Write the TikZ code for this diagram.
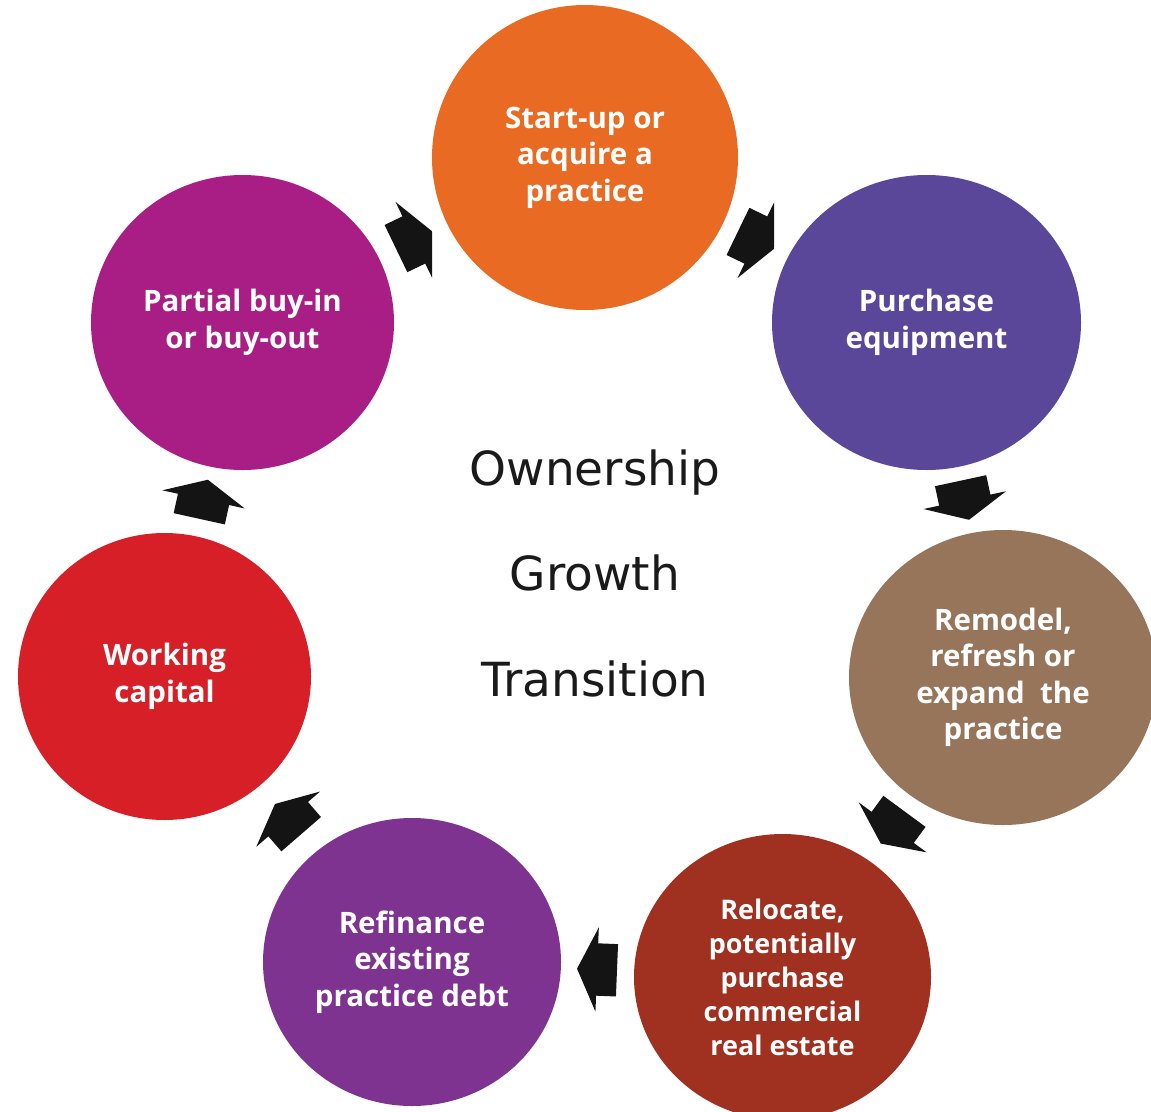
\documentclass[tikz,border=0pt]{standalone}
\usepackage{fontspec}
\setmainfont{Open Sans}
\newfontfamily\hubfont{DejaVu Sans}
\usetikzlibrary{
  shapes.geometric,
  shapes.arrows,
  calc
}
\definecolor{startorange}{RGB}{233,106,34}
\definecolor{equipviolet}{RGB}{91,71,153}
\definecolor{remodelbrown}{RGB}{150,117,91}
\definecolor{relocatered}{RGB}{160,48,31}
\definecolor{refipurple}{RGB}{127,51,145}
\definecolor{workingred}{RGB}{215,31,39}
\definecolor{partialmagenta}{RGB}{169,30,133}
\definecolor{arrowblack}{RGB}{20,20,20}
\definecolor{hubblack}{RGB}{26,26,26}
\tikzset{
  stagebox/.style={
    ellipse, draw=none, inner sep=0pt, align=center,
    text=white, font=\fontsize{29.5}{36.5}\selectfont\bfseries
  },
  cyclearrow/.style={
    single arrow, fill=arrowblack, draw=none,
    inner xsep=0pt, inner ysep=26pt, outer sep=0pt,
    minimum height=40pt, minimum width=84pt,
    single arrow head extend=16pt, single arrow tip angle=129
  },
  hubtext/.style={
    font=\hubfont\fontsize{47}{56}\selectfont, text=hubblack, anchor=base
  },
}

\begin{document}
\begin{tikzpicture}[x=1pt, y=-1pt]

  \useasboundingbox (0,0) rectangle (1151,1111);

  %% Stages of the cycle
  \node[stagebox, fill=startorange, minimum width=306pt, minimum height=305pt]
    (start) at (585,157.5) {Start-up or\\acquire a\\practice};
  \node[stagebox, fill=equipviolet, minimum width=309pt, minimum height=295pt]
    (equip) at (926.5,322.5) {Purchase\\equipment};
  \node[stagebox, fill=remodelbrown, minimum width=308pt, minimum height=295pt]
    (remodel) at (1003,677.5) {Remodel,\\refresh or\\expand~ the\\practice};
  \node[stagebox, fill=relocatered, minimum width=297pt, minimum height=286pt,
    font=\fontsize{27}{34}\selectfont\bfseries]
    (relocate) at (782.5,977) {Relocate,\\potentially\\purchase\\commercial\\real estate};
  \node[stagebox, fill=refipurple, minimum width=298pt, minimum height=288pt]
    (refinance) at (412,962) {Refinance\\existing\\practice debt};
  \node[stagebox, fill=workingred, minimum width=293pt, minimum height=287pt]
    (working) at (164.5,676.5) {Working\\capital};
  \node[stagebox, fill=partialmagenta, minimum width=303pt, minimum height=295pt]
    (partial) at (242.5,322.5) {Partial buy-in\\or buy-out};

  %% Block arrows between stages
  \foreach \from/\to in {partial/start, start/equip, equip/remodel,
      remodel/relocate, relocate/refinance, refinance/working, working/partial}
    \path let \p1=($(\to)-(\from)$), \n1={atan2(\y1,\x1)} in
      node[cyclearrow, rotate=\n1] (arr-\from)
        at ($(\from)!0.5!(\to)!6pt!(\from)$) {};

  %% Centre words
  \node[hubtext] (own) at (595,485) {Ownership};
  \node[hubtext] (grow) at (595,590) {Growth};
  \node[hubtext] (trans) at (595,696) {Transition};

\end{tikzpicture}
\end{document}
